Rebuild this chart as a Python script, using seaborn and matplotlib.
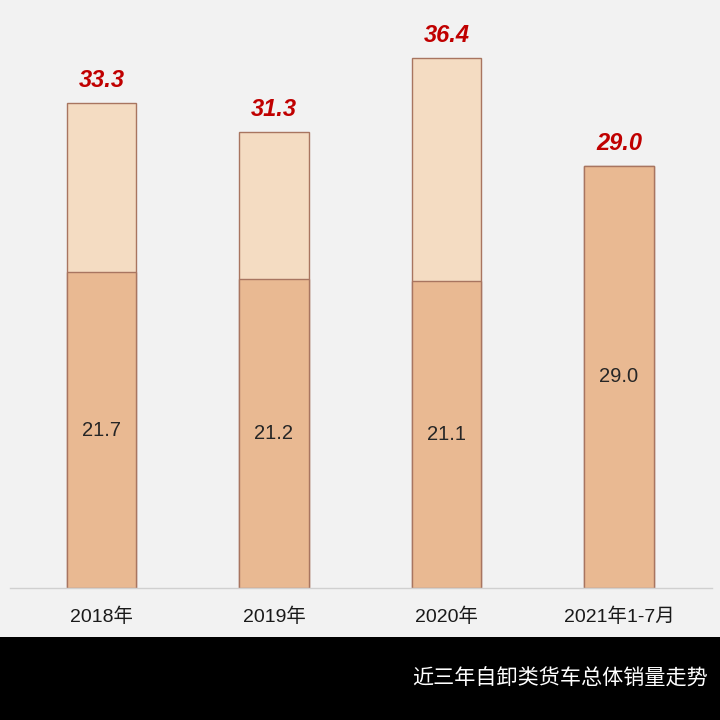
import pandas as pd
import numpy as np
import matplotlib.pyplot as plt
import seaborn as sns

# 数据
years = ['2018年', '2019年', '2020年', '2021年1-7月']
bottom_vals = [21.7, 21.2, 21.1, 29.0]
total_vals = [33.3, 31.3, 36.4, 29.0]
caption = '近三年自卸类货车总体销量走势'

data = pd.DataFrame({'year': years, 'bottom': bottom_vals, 'total': total_vals})

sns.set_theme(style='white')
plt.rcParams['font.family'] = ['Liberation Sans', 'Noto Sans CJK SC', 'DejaVu Sans']

bg = '#f2f2f2'
fig = plt.figure(figsize=(7.2, 7.2), dpi=100, facecolor=bg)
ax = fig.add_axes([0.014, 0.1833, 0.975, 0.8167])
ax.set_facecolor(bg)

# 总量（浅色）和下层（深色）
sns.barplot(data=data, x='year', y='total', color='#f4dcc2', saturation=1,
            edgecolor='#a87560', linewidth=1, width=0.405, ax=ax)
sns.barplot(data=data, x='year', y='bottom', color='#e9b992', saturation=1,
            edgecolor='#a87560', linewidth=1, width=0.405, ax=ax)

for i, (b, t) in enumerate(zip(bottom_vals, total_vals)):
    ax.text(i, b / 2, f'{b:.1f}', ha='center', va='center', fontsize=14.5, color='#262626')
    ax.annotate(f'{t:.1f}', (i, t), xytext=(0, 8), textcoords='offset points',
                ha='center', va='bottom', fontsize=17, color='#c00000',
                fontweight='bold', fontstyle='italic')

ax.set_xlim(-0.53, 3.54)
ax.set_ylim(0, 40.4)
ax.set_xlabel('')
ax.set_ylabel('')
ax.set_yticks([])
ax.tick_params(axis='x', length=0, labelsize=14, colors='#1a1a1a', pad=14)
for s in ['top', 'right', 'left']:
    ax.spines[s].set_visible(False)
ax.spines['bottom'].set_color('#d0d0d0')
ax.spines['bottom'].set_linewidth(1)

# 底部黑色标题栏
band = fig.add_axes([0, 0, 1, 83 / 720])
band.set_facecolor('black')
band.set_xticks([])
band.set_yticks([])
for s in band.spines.values():
    s.set_visible(False)
band.text(0.983, 0.5, caption, ha='right', va='center', color='white',
          fontsize=15.2, family=['Noto Sans CJK SC', 'DejaVu Sans'], transform=band.transAxes)

fig.savefig('out.png', dpi=100, facecolor=bg)
